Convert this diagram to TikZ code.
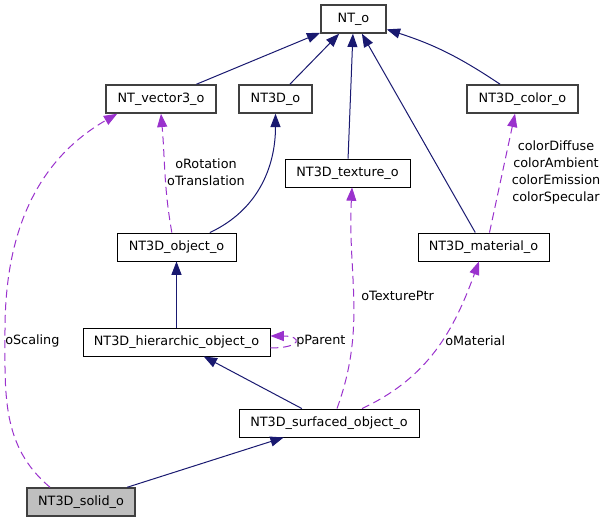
\documentclass[tikz,border=0pt]{standalone}
\usepackage{fontspec}
\setmainfont{DejaVu Sans}
\usetikzlibrary{arrows.meta}
\definecolor{navyedge}{HTML}{191970}
\definecolor{orchidedge}{HTML}{9A32CD}
\definecolor{solidfill}{HTML}{BFBFBF}

\begin{document}
\begin{tikzpicture}[x=0.75pt, y=0.75pt,
    font=\fontsize{9.6}{12.75}\selectfont,
    cls/.style={draw=black, line width=0.65pt, fill=white, inner sep=0pt,
      minimum height=21pt},
    extcls/.style={cls, draw=black!75, line width=1.1pt},
    inh/.style={draw=navyedge, line width=0.75pt,
      -{Triangle[length=10pt, width=7.5pt]}},
    dep/.style={draw=orchidedge, line width=0.75pt,
      dash pattern=on 6pt off 3.5pt,
      -{Triangle[length=10pt, width=7.5pt]}},
    lbl/.style={inner sep=0pt, align=center}]
    \useasboundingbox (0,0) rectangle (607,523);
    % Class boxes, centers taken from the layout (y counted from bottom)
    \node[extcls, minimum width=48.75pt] (nto) at (353.5,504) {NT\_o};
    \node[extcls, minimum width=82.5pt]  (vec) at (161,424) {NT\_vector3\_o};
    \node[extcls, minimum width=54.75pt] (n3d) at (275.5,424) {NT3D\_o};
    \node[extcls, minimum width=83.25pt] (col) at (522.5,424) {NT3D\_color\_o};
    \node[cls, minimum width=93.75pt]    (tex) at (347.5,350) {NT3D\_texture\_o};
    \node[cls, minimum width=89.25pt]    (obj) at (176.5,276) {NT3D\_object\_o};
    \node[cls, minimum width=98.25pt]    (mat) at (483.5,276) {NT3D\_material\_o};
    \node[cls, minimum width=140.25pt]   (hier) at (176.5,181)
      {NT3D\_hierarchic\_object\_o};
    \node[cls, minimum width=135pt]      (surf) at (329,100)
      {NT3D\_surfaced\_object\_o};
    \node[extcls, fill=solidfill, minimum width=81pt] (sol) at (81,21)
      {NT3D\_solid\_o};
    % Inheritance (solid, navy)
    \draw[inh] (vec) -- (nto);
    \draw[inh] (n3d) -- (nto);
    \draw[inh] (tex) -- (nto);
    \draw[inh] (mat) -- (nto);
    \draw[inh] (col) to[bend right=8] (nto);
    \draw[inh] ([xshift=25pt]obj.north) to[out=25, in=-90] (n3d.south);
    \draw[inh] (hier) -- (obj);
    \draw[inh] (surf) -- (hier);
    \draw[inh] (sol) -- (surf);
    % Usage (dashed, purple)
    \coordinate (sbend) at (5,193);
    \draw[dep] ([xshift=-23.25pt]sol.north) to[out=140, in=-90] (sbend)
      to[out=90, in=-150] ([xshift=9pt]vec.south west);
    \node[lbl, anchor=west] at (5,182) {oScaling};
    \draw[dep] ([xshift=-3.5pt]obj.north) to[out=100, in=-85] (vec.south);
    \node[lbl] at (206,350.5) {oRotation\\oTranslation};
    \draw[dep] ([xshift=6pt]surf.north) to[out=70, in=-93]
      ([xshift=3.4pt]tex.south);
    \node[lbl, anchor=west] at (361,227) {oTexturePtr};
    \draw[dep] ([xshift=24.75pt]surf.north) to[out=25, in=-110]
      ([xshift=-3.4pt]mat.south);
    \node[lbl, anchor=west] at (445,182) {oMaterial};
    \draw[dep] ([xshift=4.5pt]mat.north) -- ([xshift=-5.6pt]col.south);
    \node[lbl] at (556,351)
      {colorDiffuse\\colorAmbient\\colorEmission\\colorSpecular};
    \draw[dep] ([yshift=-4.5pt]hier.east) .. controls +(24pt,0) and +(24pt,0)
      .. ([yshift=4.5pt]hier.east);
    \node[lbl, anchor=west] at (296,182) {pParent};
  \end{tikzpicture}
\end{document}
